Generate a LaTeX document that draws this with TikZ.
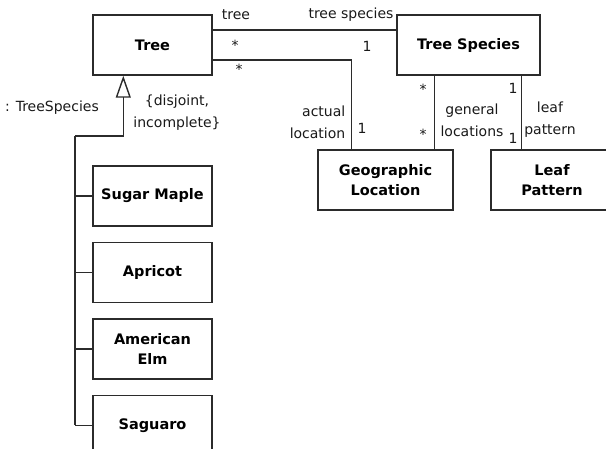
\documentclass[tikz,border=0pt]{standalone}
\usepackage{fontspec}
\setmainfont{DejaVu Sans}
\usepackage{tikz}
\usetikzlibrary{positioning,arrows.meta,calc}
\definecolor{umlline}{HTML}{2B2B2B}
\tikzset{
    cls/.style={draw=umlline,line width=1.4pt,fill=white,minimum width=119pt,minimum height=60pt,
        inner sep=2pt,align=center,font=\fontsize{14.5}{20}\selectfont\bfseries},
    role/.style={inner sep=0pt,align=center,font=\fontsize{14}{22}\selectfont,text=black!90},
    gen/.style={-{Triangle[open,length=22pt,width=15pt]}},
}

\begin{document}
\begin{tikzpicture}[x=1pt,y=-1pt,node distance=15pt,line width=1.4pt,draw=umlline]
    \useasboundingbox (0,0) rectangle (606,448);
    \clip (0,0) rectangle (606,448);

    \node[cls] (tree) at (152.5,45) {Tree};
    \node[cls,minimum width=143pt] (species) at (468.5,45) {Tree Species};
    \node[cls,minimum width=135pt] (geo) at (385.5,180) {Geographic\\Location};
    \node[cls,minimum width=122pt] (leaf) at (552,180) {Leaf\\Pattern};

    \node[cls] (maple) at (152.5,196) {Sugar Maple};
    \node[cls,below=of maple] (apricot) {Apricot};
    \node[cls,below=of apricot] (elm) {American\\Elm};
    \node[cls,below=of elm] (saguaro) {Saguaro};

    % associations
    \draw ([yshift=15]tree.east) -- ([yshift=15]species.west);
    \draw ([yshift=-15]tree.east) -| ([xshift=34]geo.north west);
    \draw ([xshift=38]species.south west) -- ([xshift=38]species.south west |- geo.north);
    \draw ([xshift=-19]species.south east) -- ([xshift=-19]species.south east |- leaf.north);

    % generalization
    \coordinate (bus) at (75,136);
    \draw[gen] (bus) -| ([xshift=31]tree.south west);
    \draw (bus) -- (bus |- saguaro.west);
    \foreach \n in {maple,apricot,elm,saguaro}
        \draw (bus |- \n.west) -- (\n.west);

    % role names and multiplicities
    \node[role] at (236,15) {tree};
    \node[role] at (235,45) {*};
    \node[role] at (239,69) {*};
    \node[role] at (351,15) {tree species};
    \node[role] at (367,46) {1};
    \node[role] at (52,108) {: TreeSpecies};
    \node[role] at (177,113) {\{disjoint,\\incomplete\}};
    \node[role,anchor=east,align=right] at (346,122) {actual\\location};
    \node[role] at (362,128) {1};
    \node[role] at (423,89) {*};
    \node[role] at (423,134) {*};
    \node[role] at (472,120) {general\\locations};
    \node[role] at (513,88) {1};
    \node[role] at (513,138) {1};
    \node[role] at (550,120) {leaf\\pattern};
\end{tikzpicture}
\end{document}
